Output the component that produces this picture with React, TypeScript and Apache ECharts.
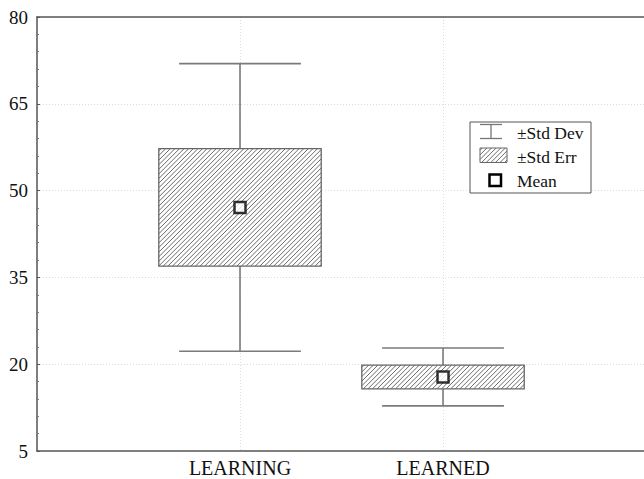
import React, { useEffect, useRef } from "react";
import * as echarts from "echarts";

const categories = ["LEARNING", "LEARNED"];
const categoryX = [1, 2];
const means = [47.1, 17.8];
const stdErr = [10.15, 2.05];
const stdDev = [24.85, 5.0];
const legendLabels = ["±Std Dev", "±Std Err", "Mean"];

const SERIF = "'Liberation Serif', 'Times New Roman', serif";

export default function App() {
  const ref = useRef<HTMLDivElement>(null);
  useEffect(() => {
    if (!ref.current) return;
    const chart = echarts.init(ref.current, null, { renderer: "svg" });
    const boxData = categoryX.map((x, i) => [x, means[i], stdErr[i], stdDev[i]]);
    const meanData = categoryX.map((x, i) => [x, means[i]]);

    const renderItem = (params: any, api: any) => {
      const x = api.value(0);
      const m = api.value(1);
      const se = api.value(2);
      const sd = api.value(3);
      const top = api.coord([x, m + sd]);
      const bot = api.coord([x, m - sd]);
      const capL = api.coord([x - 0.3, m])[0];
      const capR = api.coord([x + 0.3, m])[0];
      const bTop = api.coord([x - 0.4, m + se]);
      const bBot = api.coord([x + 0.4, m - se]);
      const x0 = bTop[0], y0 = bTop[1], x1 = bBot[0], y1 = bBot[1];
      const wStyle = { stroke: "#7a7a7a", lineWidth: 1.6 };
      const children: any[] = [
        { type: "line", shape: { x1: top[0], y1: top[1], x2: bot[0], y2: bot[1] }, style: wStyle },
        { type: "line", shape: { x1: capL, y1: top[1], x2: capR, y2: top[1] }, style: wStyle },
        { type: "line", shape: { x1: capL, y1: bot[1], x2: capR, y2: bot[1] }, style: wStyle },
        { type: "rect", shape: { x: x0, y: y0, width: x1 - x0, height: y1 - y0 }, style: { fill: "#fff", stroke: "none" } },
      ];
      const step = 4.6;
      for (let c = x0 + y0 + step / 2; c < x1 + y1; c += step) {
        const xa = Math.max(x0, c - y1);
        const xb = Math.min(x1, c - y0);
        if (xb <= xa) continue;
        children.push({
          type: "line",
          shape: { x1: xa, y1: c - xa, x2: xb, y2: c - xb },
          style: { stroke: "#6a6a6a", lineWidth: 1 },
        });
      }
      children.push({
        type: "rect",
        shape: { x: x0, y: y0, width: x1 - x0, height: y1 - y0 },
        style: { fill: "none", stroke: "#666", lineWidth: 1.3 },
      });
      return { type: "group", children };
    };

    // legend hatch
    const lx0 = 480, ly0 = 148, lx1 = 507, ly1 = 162.5;
    const legendItems: any[] = [
      { type: "rect", shape: { x: 470, y: 122, width: 121, height: 71 }, style: { fill: "#fff", stroke: "#555", lineWidth: 1 } },
      { type: "line", shape: { x1: 480, y1: 124.5, x2: 502, y2: 124.5 }, style: { stroke: "#777", lineWidth: 1.3 } },
      { type: "line", shape: { x1: 491, y1: 124.5, x2: 491, y2: 138.5 }, style: { stroke: "#777", lineWidth: 1.3 } },
      { type: "line", shape: { x1: 480, y1: 138.5, x2: 502, y2: 138.5 }, style: { stroke: "#777", lineWidth: 1.3 } },
    ];
    for (let c = lx0 + ly0 + 2.3; c < lx1 + ly1; c += 4.6) {
      const xa = Math.max(lx0, c - ly1);
      const xb = Math.min(lx1, c - ly0);
      if (xb <= xa) continue;
      legendItems.push({
        type: "line",
        shape: { x1: xa, y1: c - xa, x2: xb, y2: c - xb },
        style: { stroke: "#6a6a6a", lineWidth: 1 },
      });
    }
    legendItems.push(
      { type: "rect", shape: { x: lx0, y: ly0, width: lx1 - lx0, height: ly1 - ly0 }, style: { fill: "none", stroke: "#666", lineWidth: 1 } },
      { type: "rect", shape: { x: 489.5, y: 174.5, width: 11.5, height: 11.5 }, style: { fill: "#fff", stroke: "#000", lineWidth: 2.5 } },
      { type: "text", x: 517, y: 133, style: { text: legendLabels[0], fontFamily: SERIF, fontSize: 17.5, fill: "#111", verticalAlign: "middle" } },
      { type: "text", x: 517, y: 157, style: { text: legendLabels[1], fontFamily: SERIF, fontSize: 17.5, fill: "#111", verticalAlign: "middle" } },
      { type: "text", x: 517, y: 181, style: { text: legendLabels[2], fontFamily: SERIF, fontSize: 17.5, fill: "#111", verticalAlign: "middle" } }
    );
    const graphic = legendItems.map((it, i) => ({ ...it, z: 100 + i }));

    const option: any = {
      animation: false,
      backgroundColor: "#fff",
      grid: {
        left: 37,
        right: 0,
        top: 17,
        bottom: 28,
        show: false,
      },
      xAxis: [
        {
          type: "value",
          min: 0,
          max: 2.99,
          interval: 1,
          axisLine: { show: true, onZero: false, lineStyle: { color: "#555", width: 1.5 } },
          axisTick: { show: false },
          axisLabel: {
            margin: 7,
            fontFamily: SERIF,
            fontSize: 20,
            color: "#111",
            showMaxLabel: false,
            formatter: (v: number) => {
              const i = categoryX.indexOf(v);
              return i >= 0 ? categories[i] : "";
            },
          },
          splitLine: { show: true, showMinLine: false, showMaxLine: false, lineStyle: { color: "#ddd", type: [1, 2], width: 1 } },
        },
        {
          type: "value",
          position: "top",
          min: 0,
          max: 2.99,
          interval: 1,
          axisLine: { show: true, onZero: false, lineStyle: { color: "#555", width: 1.5 } },
          axisTick: { show: false },
          axisLabel: { show: false },
          splitLine: { show: false },
        },
      ],
      yAxis: {
        type: "value",
        min: 5,
        max: 80,
        interval: 15,
        axisLine: { show: true, onZero: false, lineStyle: { color: "#555", width: 1.5 } },
        axisTick: { show: true, inside: true, length: 3, lineStyle: { color: "#555" } },
        minorTick: { show: true, splitNumber: 5, length: 2, lineStyle: { color: "#777" } },
        axisLabel: { margin: 9, fontFamily: SERIF, fontSize: 19, color: "#111" },
        splitLine: { show: true, showMinLine: false, showMaxLine: false, lineStyle: { color: "#ddd", type: [1, 2], width: 1 } },
      },
      series: [
        {
          type: "custom",
          renderItem,
          data: boxData,
          encode: { x: 0, y: 1 },
          z: 2,
        },
        {
          type: "scatter",
          data: meanData,
          symbol: "rect",
          symbolSize: 11,
          itemStyle: { color: "#fff", borderColor: "#000", borderWidth: 2.5 },
          z: 3,
        },
      ],
      graphic,
    };
    chart.setOption(option);
    return () => chart.dispose();
  }, []);
  return <div ref={ref} style={{ width: 644, height: 479, position: "absolute", left: 0, top: 0 }} />;
}
